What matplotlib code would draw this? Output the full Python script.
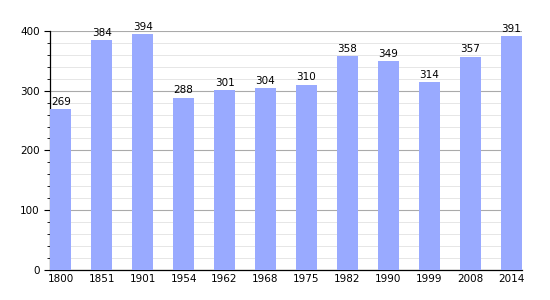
import matplotlib
matplotlib.use("Agg")
import matplotlib.pyplot as plt
from matplotlib.ticker import MultipleLocator

years = ["1800", "1851", "1901", "1954", "1962", "1968", "1975", "1982", "1990", "1999", "2008", "2014"]
population = [269, 384, 394, 288, 301, 304, 310, 358, 349, 314, 357, 391]

fig = plt.figure(figsize=(5.5, 3), dpi=100)
ax = fig.add_axes([0.091, 0.1, 0.858, 0.797])

x = range(len(years))
ax.bar(x, population, width=0.52, color="#99aaff", zorder=3)
for i, v in zip(x, population):
    ax.text(i, v + 4, str(v), ha="center", va="bottom", fontsize=7.5, zorder=4)

ax.set_xlim(-0.26, len(years) - 0.74)
ax.set_ylim(0, 400)
ax.set_xticks(list(x))
ax.set_xticklabels(years, fontsize=7.5)
ax.yaxis.set_major_locator(MultipleLocator(100))
ax.yaxis.set_minor_locator(MultipleLocator(20))
ax.tick_params(axis="y", labelsize=7.5, length=4, width=0.8)
ax.tick_params(axis="y", which="minor", length=2.5, width=0.6)
ax.tick_params(axis="x", length=0, pad=3)
ax.grid(axis="y", which="major", color="#aaaaaa", linewidth=0.8, zorder=0)
ax.grid(axis="y", which="minor", color="#e2e2e2", linewidth=0.6, zorder=0)
for s in ["top", "right"]:
    ax.spines[s].set_visible(False)
ax.spines["left"].set_linewidth(0.9)
ax.spines["bottom"].set_linewidth(0.9)

fig.savefig("out.png")
